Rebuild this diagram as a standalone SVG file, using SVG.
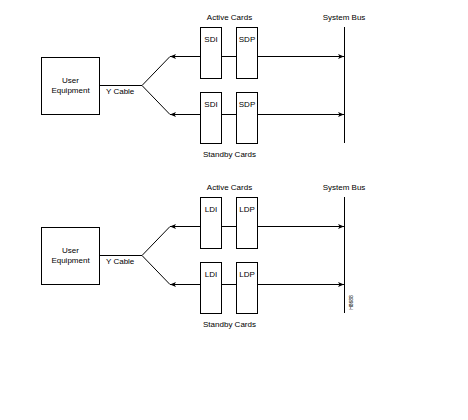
<svg xmlns="http://www.w3.org/2000/svg" width="468" height="420" viewBox="0 0 468 420">
<defs>
<style>
.box{fill:#fff;stroke:#000;stroke-width:1}
.ln{fill:none;stroke:#000;stroke-width:1}
.t{font-family:"Liberation Sans",Arial,sans-serif;font-size:8px;fill:#000}
.c{text-anchor:middle}
</style>
<marker id="ah" markerUnits="userSpaceOnUse" markerWidth="8" markerHeight="8" refX="6" refY="3" orient="auto">
<path d="M0,0.5 L6,3 L0,5.5 L1.5,3 Z" fill="#000"/>
</marker>
</defs>
<rect width="468" height="420" fill="#fff"/>

<g id="connectors">
<line class="ln" x1="99.5" y1="85.5" x2="142" y2="85.5"/>
<line class="ln" x1="142" y1="85.5" x2="170" y2="56.5"/>
<line class="ln" x1="142" y1="85.5" x2="170" y2="114.5"/>
<line class="ln" x1="200.5" y1="56.5" x2="170" y2="56.5" marker-end="url(#ah)"/>
<line class="ln" x1="200.5" y1="114.5" x2="170" y2="114.5" marker-end="url(#ah)"/>
<line class="ln" x1="221.5" y1="56.5" x2="236.5" y2="56.5"/>
<line class="ln" x1="221.5" y1="114.5" x2="236.5" y2="114.5"/>
<line class="ln" x1="257.5" y1="56.5" x2="344" y2="56.5" marker-end="url(#ah)"/>
<line class="ln" x1="257.5" y1="114.5" x2="344" y2="114.5" marker-end="url(#ah)"/>

<line class="ln" x1="99.5" y1="255.5" x2="142" y2="255.5"/>
<line class="ln" x1="142" y1="255.5" x2="170" y2="226.5"/>
<line class="ln" x1="142" y1="255.5" x2="170" y2="284.5"/>
<line class="ln" x1="200.5" y1="226.5" x2="170" y2="226.5" marker-end="url(#ah)"/>
<line class="ln" x1="200.5" y1="284.5" x2="170" y2="284.5" marker-end="url(#ah)"/>
<line class="ln" x1="221.5" y1="226.5" x2="236.5" y2="226.5"/>
<line class="ln" x1="221.5" y1="284.5" x2="236.5" y2="284.5"/>
<line class="ln" x1="257.5" y1="226.5" x2="344" y2="226.5" marker-end="url(#ah)"/>
<line class="ln" x1="257.5" y1="284.5" x2="344" y2="284.5" marker-end="url(#ah)"/>
</g>

<g id="user1">
<rect class="box" x="41.5" y="57.5" width="58" height="57"/>
<text class="t c" x="70.5" y="83">User</text>
<text class="t c" x="70.5" y="93">Equipment</text>
</g>
<text class="t" x="106" y="94">Y Cable</text>
<text class="t c" x="229.5" y="20">Active Cards</text>
<text class="t c" x="229.5" y="157">Standby Cards</text>
<g id="sdi1"><rect class="box" x="200.5" y="27.5" width="21" height="51"/><text class="t c" x="211" y="42">SDI</text></g>
<g id="sdp1"><rect class="box" x="236.5" y="27.5" width="21" height="51"/><text class="t c" x="247" y="42">SDP</text></g>
<g id="sdi2"><rect class="box" x="200.5" y="92.5" width="21" height="51"/><text class="t c" x="211" y="107">SDI</text></g>
<g id="sdp2"><rect class="box" x="236.5" y="92.5" width="21" height="51"/><text class="t c" x="247" y="107">SDP</text></g>
<g id="bus1">
<line class="ln" x1="344.5" y1="27" x2="344.5" y2="143"/>
<text class="t c" x="344" y="20">System Bus</text>
</g>

<g id="user2">
<rect class="box" x="41.5" y="227.5" width="58" height="57"/>
<text class="t c" x="70.5" y="253">User</text>
<text class="t c" x="70.5" y="263">Equipment</text>
</g>
<text class="t" x="106" y="264">Y Cable</text>
<text class="t c" x="229.5" y="190">Active Cards</text>
<text class="t c" x="229.5" y="327">Standby Cards</text>
<g id="ldi1"><rect class="box" x="200.5" y="197.5" width="21" height="51"/><text class="t c" x="211" y="212">LDI</text></g>
<g id="ldp1"><rect class="box" x="236.5" y="197.5" width="21" height="51"/><text class="t c" x="247" y="212">LDP</text></g>
<g id="ldi2"><rect class="box" x="200.5" y="262.5" width="21" height="51"/><text class="t c" x="211" y="277">LDI</text></g>
<g id="ldp2"><rect class="box" x="236.5" y="262.5" width="21" height="51"/><text class="t c" x="247" y="277">LDP</text></g>
<g id="bus2">
<line class="ln" x1="344.5" y1="197" x2="344.5" y2="313"/>
<text class="t c" x="344" y="190">System Bus</text>
</g>
<text class="t c" style="font-size:5px" transform="translate(352.5,302.5) rotate(-90)">H8688</text>
</svg>
